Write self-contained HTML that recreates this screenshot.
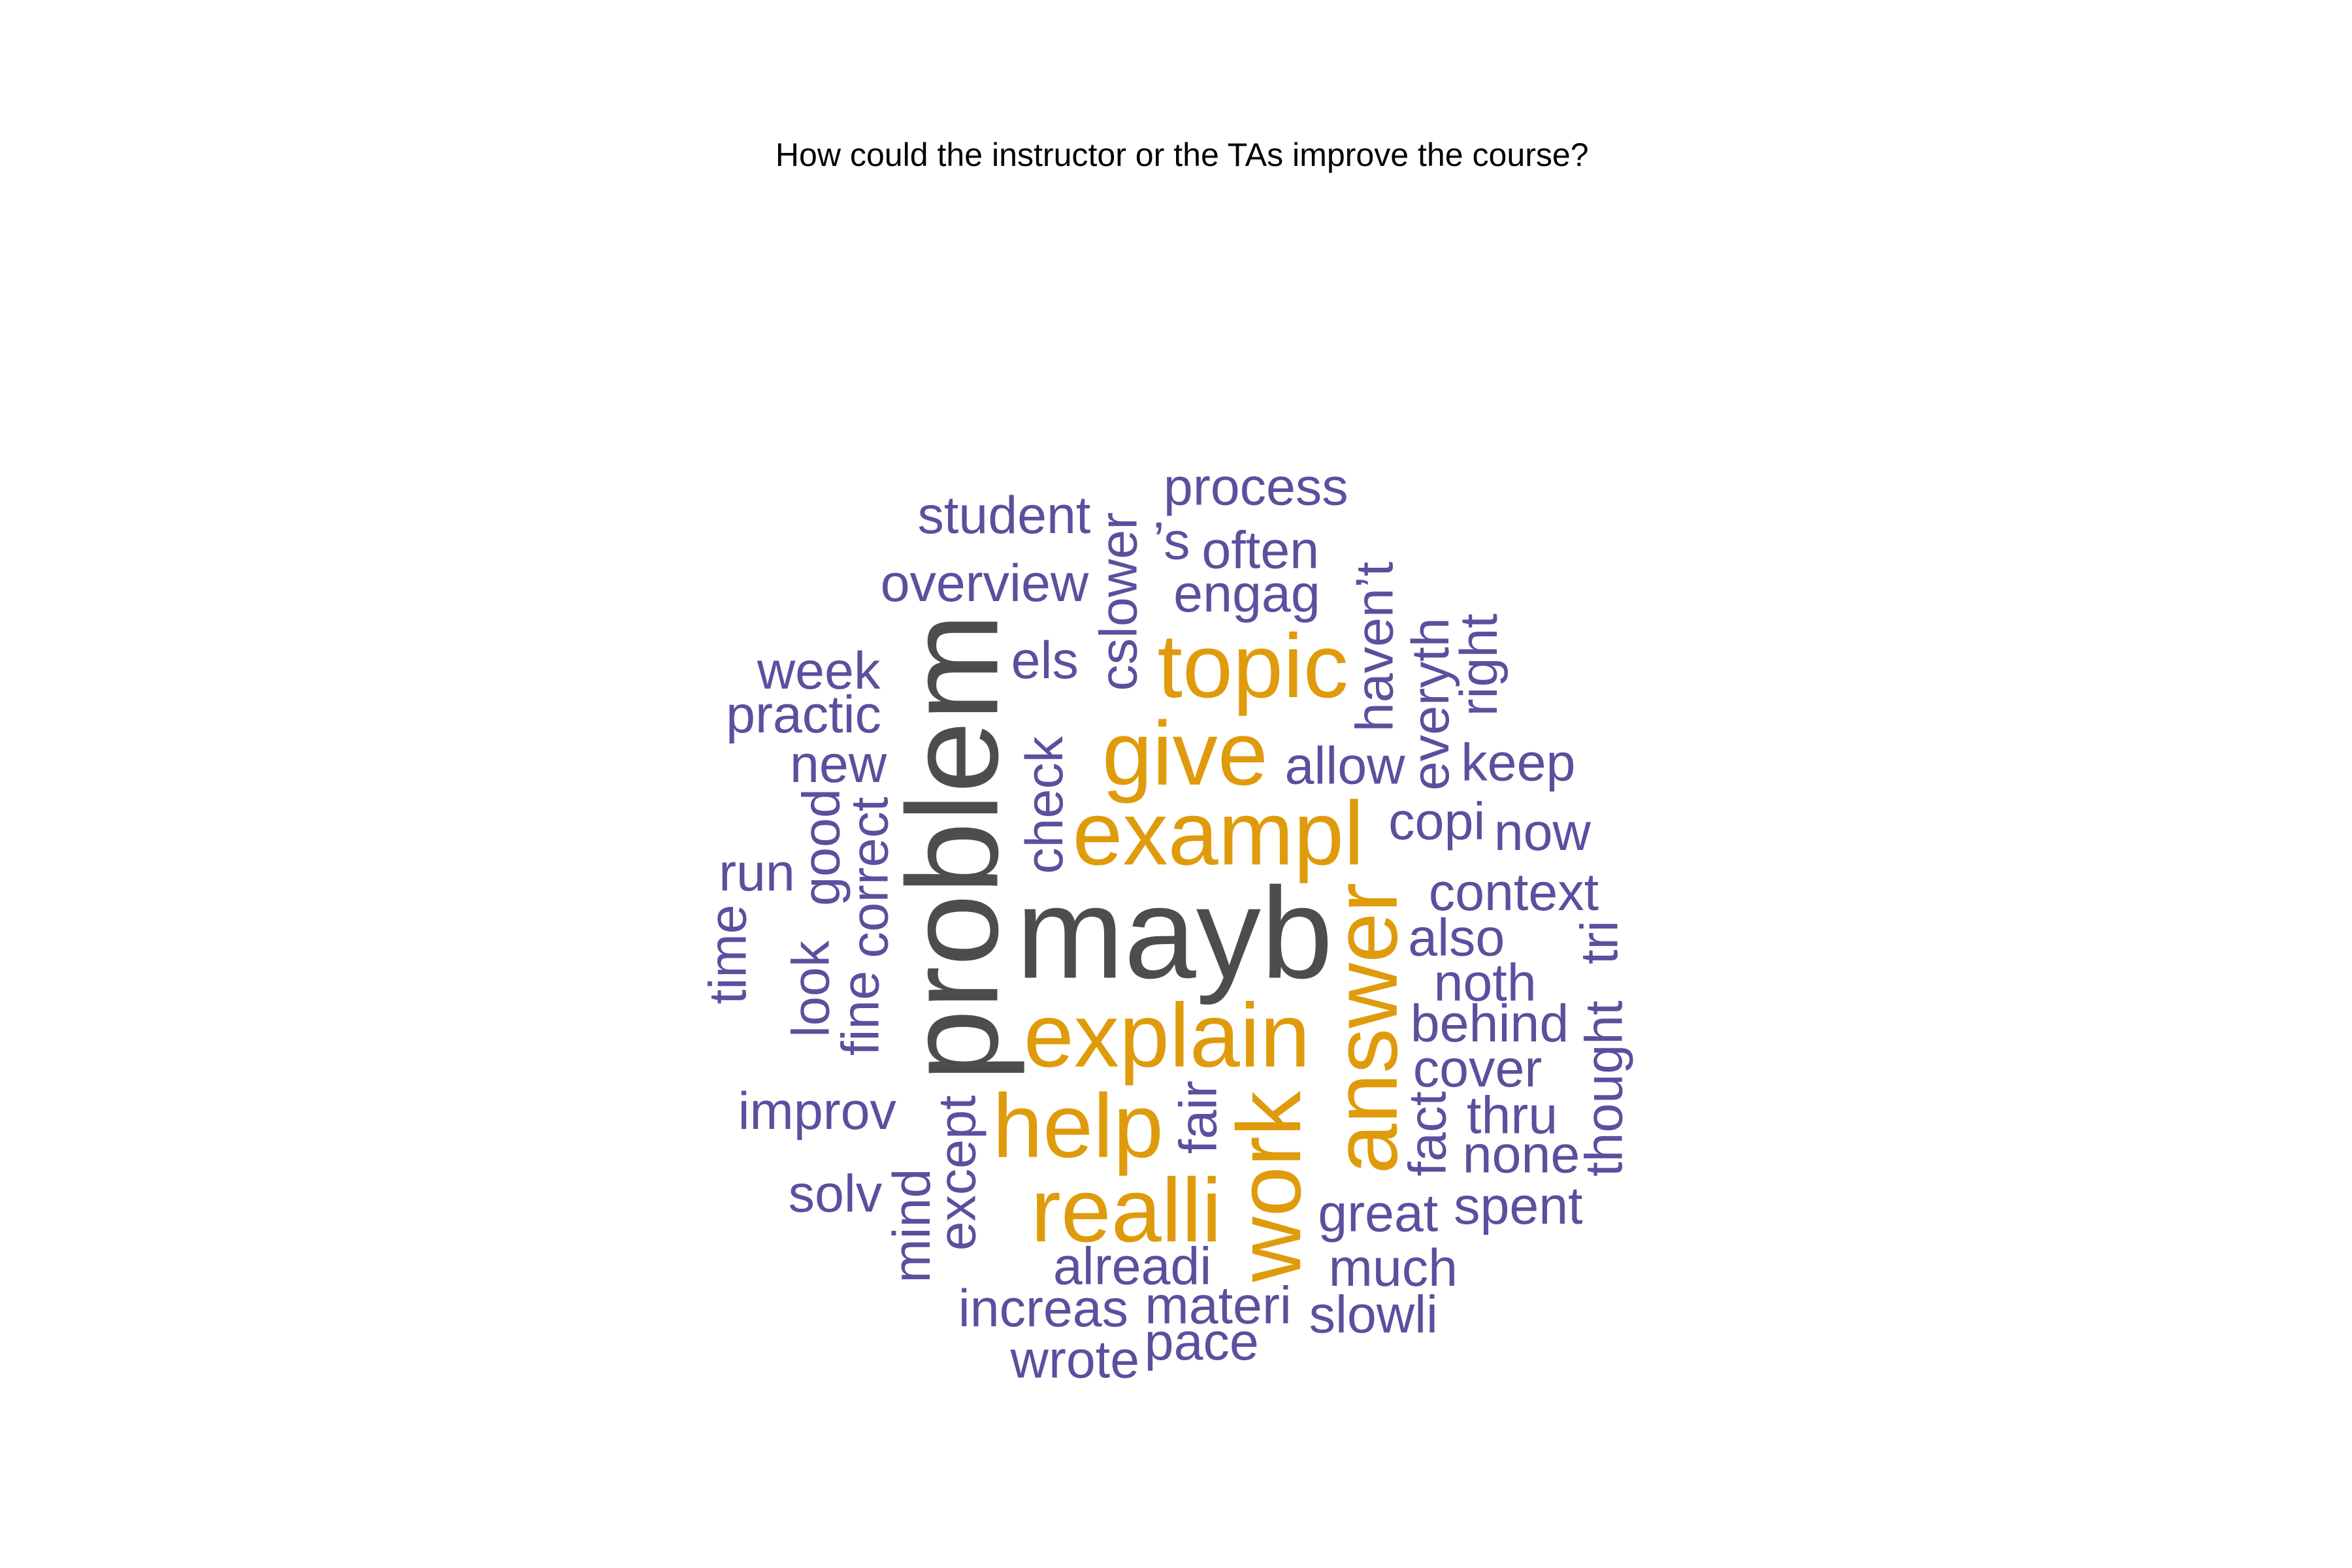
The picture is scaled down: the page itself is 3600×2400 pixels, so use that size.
<!DOCTYPE html>
<html><head><meta charset="utf-8"><style>
html,body{margin:0;padding:0;background:#fff;}
svg{display:block;}
text{font-family:"Liberation Sans",Arial,sans-serif;}
.p{fill:#5b4f9e;font-size:35px;}
.o{fill:#df9b0c;font-size:60px;}
.g{fill:#4d4d4d;font-size:86px;}
</style></head><body>
<svg width="3600" height="2400" viewBox="0 0 1560 1040" xmlns="http://www.w3.org/2000/svg">
<rect width="1560" height="1040" fill="#fff"/>
<text x="784" y="110" text-anchor="middle" style="font-size:21.7px;fill:#000">How could the instructor or the TAs improve the course?</text>
<g text-anchor="middle" dominant-baseline="central" transform="translate(-4,-3)">
<text class="p" x="837" y="326">process</text>
<text class="p" x="670" y="345">student</text>
<text class="p" x="781" y="362">’s</text>
<text class="p" x="840" y="368">often</text>
<text class="p" x="657" y="390">overview</text>
<text class="p" x="831" y="397">engag</text>
<text class="p" x="697" y="441">els</text>
<text class="o" x="835" y="445">topic</text>
<text class="p" x="547" y="448">week</text>
<text class="p" x="537" y="477">practic</text>
<text class="o" x="790" y="503">give</text>
<text class="p" x="896" y="511">allow</text>
<text class="p" x="1011" y="509">keep</text>
<text class="p" x="560" y="510">new</text>
<text class="p" x="957" y="548">copi</text>
<text class="o" x="812" y="556">exampl</text>
<text class="p" x="1027" y="555">now</text>
<text class="p" x="506" y="582">run</text>
<text class="p" x="1008" y="595">context</text>
<text class="g" x="783" y="622">mayb</text>
<text class="p" x="970" y="625">also</text>
<text class="p" x="989" y="655">noth</text>
<text class="o" x="778" y="690">explain</text>
<text class="p" x="992" y="682">behind</text>
<text class="p" x="984" y="712">cover</text>
<text class="p" x="546" y="740">improv</text>
<text class="o" x="719" y="750">help</text>
<text class="p" x="1007" y="743">thru</text>
<text class="p" x="1013" y="769">none</text>
<text class="p" x="558" y="795">solv</text>
<text class="p" x="1011" y="803">spent</text>
<text class="p" x="918" y="808">great</text>
<text class="o" x="751" y="806">realli</text>
<text class="p" x="755" y="843">alreadi</text>
<text class="p" x="928" y="844">much</text>
<text class="p" x="696" y="871">increas</text>
<text class="p" x="812" y="869">materi</text>
<text class="p" x="915" y="875">slowli</text>
<text class="p" x="801" y="893">pace</text>
<text class="p" x="717" y="905">wrote</text>
<text class="g" x="636" y="565" transform="rotate(-90 636 565)">problem</text>
<text class="p" x="746" y="402" transform="rotate(-90 746 402)">cslower</text>
<text class="p" x="916" y="432" transform="rotate(-90 916 432)">haven’t</text>
<text class="p" x="953" y="470" transform="rotate(-90 953 470)">everyth</text>
<text class="p" x="985" y="444" transform="rotate(-90 985 444)">right</text>
<text class="p" x="697" y="537" transform="rotate(-90 697 537)">check</text>
<text class="p" x="549" y="565" transform="rotate(-90 549 565)">good</text>
<text class="p" x="581" y="585" transform="rotate(-90 581 585)">correct</text>
<text class="p" x="487" y="636" transform="rotate(-90 487 636)">time</text>
<text class="p" x="542" y="659" transform="rotate(-90 542 659)">look</text>
<text class="p" x="575" y="675" transform="rotate(-90 575 675)">fine</text>
<text class="o" x="910" y="685" transform="rotate(-90 910 685)">answer</text>
<text class="o" x="846" y="790" transform="rotate(-90 846 790)">work</text>
<text class="p" x="799" y="744" transform="rotate(-90 799 744)">fair</text>
<text class="p" x="639" y="781" transform="rotate(-90 639 781)">except</text>
<text class="p" x="609" y="816" transform="rotate(-90 609 816)">mind</text>
<text class="p" x="951" y="755" transform="rotate(-90 951 755)">fact</text>
<text class="p" x="1065" y="628" transform="rotate(-90 1065 628)">tri</text>
<text class="p" x="1068" y="725" transform="rotate(-90 1068 725)">thought</text>
</g>
</svg>
</body></html>
